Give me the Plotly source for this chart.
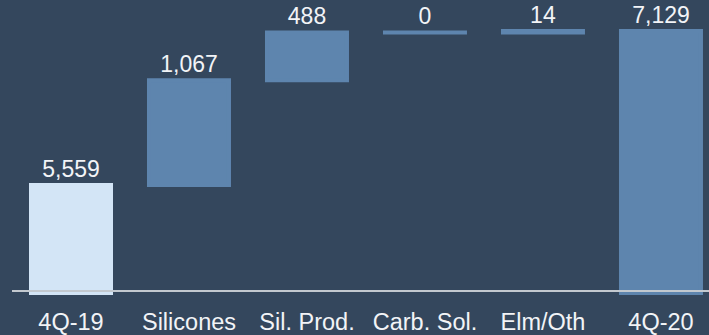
import plotly.graph_objects as go

# Net sales bridge, 4Q-19 to 4Q-20 (millions)
categories = ["4Q-19", "Silicones", "Sil. Prod.", "Carb. Sol.", "Elm/Oth", "4Q-20"]
values = [5559, 1067, 488, 0, 14, 7129]
measures = ["absolute", "relative", "relative", "relative", "relative", "absolute"]
labels = ["5,559", "1,067", "488", "0", "14", "7,129"]

BG = "#34475d"
BAR = "#5e85ae"
START = "#d3e5f6"
TEXT = "#f2f4f7"
FONT = "Liberation Sans, Arial, sans-serif"
BAR_W = 0.678
EDGE = 4

fig = go.Figure(
    go.Waterfall(
        x=categories,
        y=values,
        measure=measures,
        width=[BAR_W] * len(categories),
        text=labels,
        textposition="outside",
        textfont=dict(family=FONT, size=23, color=TEXT),
        cliponaxis=False,
        connector=dict(visible=False),
        increasing=dict(marker=dict(color=BAR, line=dict(color=BAR, width=EDGE))),
        decreasing=dict(marker=dict(color=BAR, line=dict(color=BAR, width=EDGE))),
        totals=dict(marker=dict(color=BAR, line=dict(color=BAR, width=EDGE))),
        showlegend=False,
    )
)

# starting level drawn in a lighter tint over the first bar
fig.add_trace(
    go.Bar(
        x=[categories[0]],
        y=[values[0]],
        width=[BAR_W],
        marker=dict(color=START, line=dict(color=START, width=EDGE)),
        showlegend=False,
        hoverinfo="skip",
    )
)

# zero-change steps get a flat marker at their running level
# (line-ew spans 1.4 x size, so size 60 gives an 84 px rule)
running = 0
flat_x, flat_y = [], []
for cat, val, m in zip(categories, values, measures):
    running = val if m == "absolute" else running + val
    if m == "relative" and val == 0:
        flat_x.append(cat)
        flat_y.append(running)
fig.add_trace(
    go.Scatter(
        x=flat_x,
        y=flat_y,
        mode="markers",
        marker=dict(symbol="line-ew", size=60, line=dict(color=BAR, width=EDGE)),
        showlegend=False,
        hoverinfo="skip",
        cliponaxis=False,
    )
)

fig.update_layout(
    width=709,
    height=335,
    margin=dict(l=12, r=0, t=0, b=40),
    paper_bgcolor=BG,
    plot_bgcolor=BG,
    barmode="overlay",
    showlegend=False,
    font=dict(family=FONT, color=TEXT),
)
fig.update_xaxes(
    range=[-0.5, 5.407],
    showgrid=False,
    zeroline=False,
    showline=False,
    ticks="",
    ticklabelstandoff=10,
    tickfont=dict(size=23.5, color=TEXT),
)
fig.update_yaxes(
    range=[4438, 7445],
    showgrid=False,
    zeroline=False,
    showline=False,
    showticklabels=False,
)
# baseline rule across the chart
fig.add_shape(
    type="line", xref="paper", yref="paper",
    x0=0, x1=1.05, y0=4 / 295, y1=4 / 295,
    line=dict(color="#c3c9cf", width=2),
)

fig.write_html("out.html")
